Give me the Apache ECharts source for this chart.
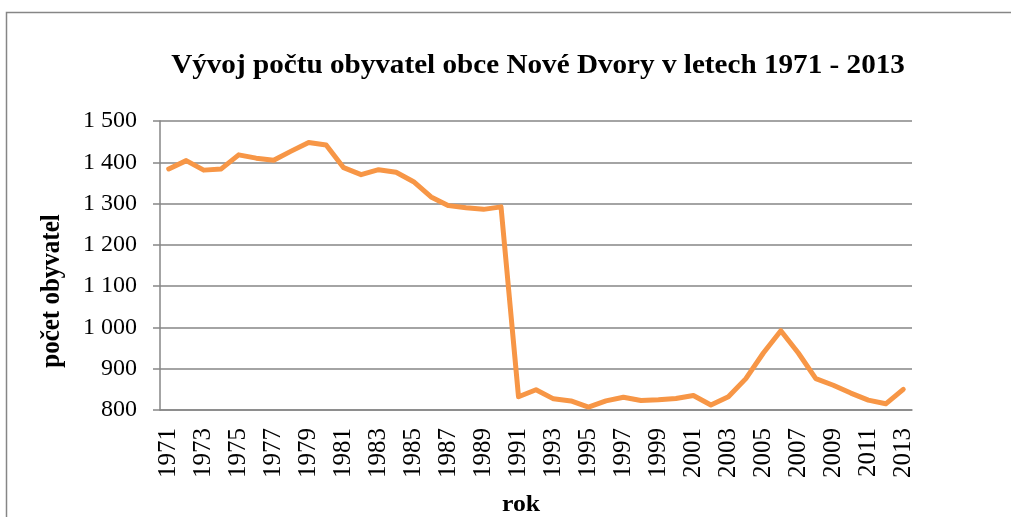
<!DOCTYPE html>
<html>
<head>
<meta charset="utf-8">
<script src="https://cdn.jsdelivr.net/npm/echarts@6/dist/echarts.min.js"></script>
<style>
  html, body { margin: 0; padding: 0; background: #fff; }
  #chart { width: 1011px; height: 517px; }
</style>
</head>
<body>
<div id="chart"></div>
<script>
var years = [];
for (var y = 1971; y <= 2013; y++) years.push(String(y));

// počet obyvatel
var population = [
  1384, 1404, 1381, 1384, 1418, 1410, 1405, 1427, 1448, 1442,
  1387, 1370, 1382, 1376, 1353, 1316, 1295, 1290, 1286, 1292,
  832, 849, 827, 822, 807, 822, 831, 823, 825, 828,
  835, 812, 832, 876, 938, 992, 938, 876, 860, 841,
  824, 815, 850
];

var yTicks = [800, 900, 1000, 1100, 1200, 1300, 1400, 1500];

var font = "'Liberation Serif', 'Times New Roman', serif";

function fmt(v) {
  if (v >= 1000) {
    return Math.floor(v / 1000) + " " + String(v % 1000).padStart(3, "0");
  }
  return String(v);
}

var myChart = echarts.init(document.getElementById("chart"));

var option = {
  animation: false,
  backgroundColor: "#fff",
  grid: {
    left: 160,
    right: 99,
    top: 121,
    bottom: 107
  },
  graphic: [
    {
      type: "rect",
      shape: { x: 6.5, y: 12.5, width: 1020, height: 520 },
      style: { fill: "none", stroke: "#868686", lineWidth: 1.5 },
      silent: true
    },
    {
      type: "text",
      x: 538,
      y: 66,
      scaleX: 1.08,
      style: {
        text: "Vývoj počtu obyvatel obce Nové Dvory v letech 1971 - 2013",
        font: "bold 27px " + font,
        fill: "#000",
        textAlign: "center",
        textVerticalAlign: "middle"
      }
    },
    {
      type: "text",
      x: 52,
      y: 291,
      rotation: Math.PI / 2,
      scaleY: 1.08,
      style: {
        text: "počet obyvatel",
        font: "bold 25px " + font,
        fill: "#000",
        textAlign: "center",
        textVerticalAlign: "middle"
      }
    },
    {
      type: "text",
      x: 521,
      y: 505,
      scaleX: 1.12,
      style: {
        text: "rok",
        font: "bold 23px " + font,
        fill: "#000",
        textAlign: "center",
        textVerticalAlign: "middle"
      }
    }
  ],
  xAxis: {
    type: "category",
    data: years,
    boundaryGap: true,
    axisLine: { lineStyle: { color: "#868686", width: 1.5 } },
    axisTick: { show: false },
    axisLabel: {
      interval: 1,
      rotate: 90,
      margin: 18,
      color: "#000",
      fontFamily: font,
      fontSize: 25
    },
    splitLine: { show: false }
  },
  yAxis: {
    type: "value",
    min: yTicks[0],
    max: yTicks[yTicks.length - 1],
    interval: 100,
    axisLine: { show: true, lineStyle: { color: "#868686", width: 1.5 } },
    axisTick: { show: true, length: 7, lineStyle: { color: "#868686", width: 1.5 } },
    axisLabel: {
      margin: 23,
      color: "#000",
      fontFamily: font,
      fontSize: 24,
      formatter: fmt
    },
    splitLine: { lineStyle: { color: "#868686", width: 1.5 } }
  },
  series: [
    {
      name: "počet obyvatel",
      type: "line",
      data: population,
      symbol: "none",
      lineStyle: { color: "#F79646", width: 5, join: "round", cap: "round" },
      itemStyle: { color: "#F79646" }
    }
  ]
};

myChart.setOption(option);
</script>
</body>
</html>
